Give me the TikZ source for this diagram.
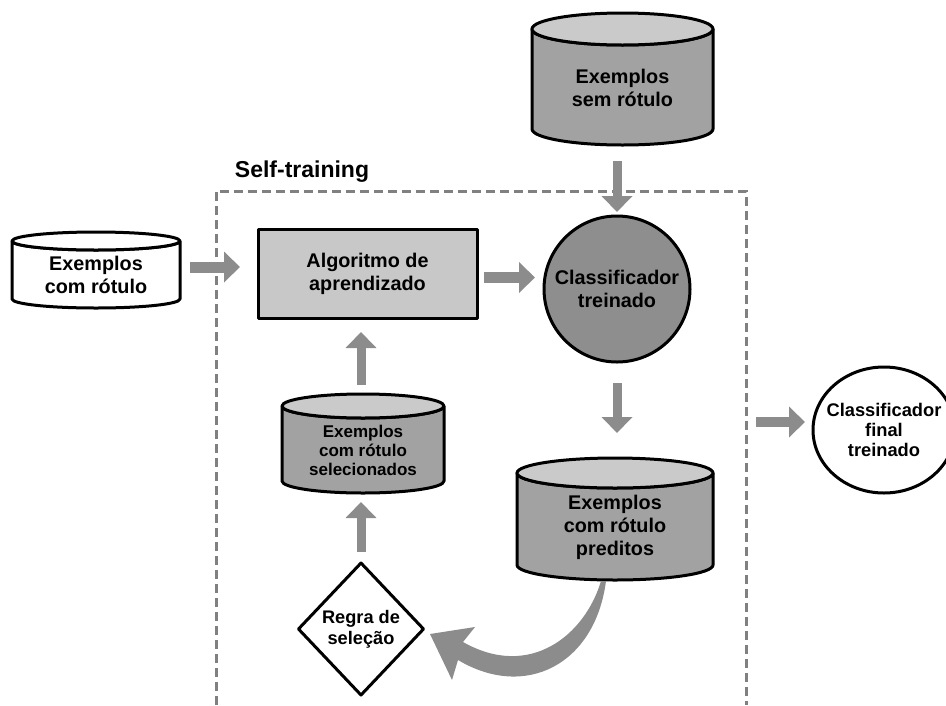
\documentclass[tikz,border=0pt]{standalone}
\usepackage{fontspec}
\setmainfont{Liberation Sans}
\usetikzlibrary{arrows.meta,shapes.geometric}

\definecolor{arrowgray}{HTML}{8C8C8C}
\definecolor{dashgray}{HTML}{808080}
\definecolor{boxgray}{HTML}{C8C8C8}
\definecolor{cyltop}{HTML}{CACACA}
\definecolor{cylbody}{HTML}{A2A2A2}
\definecolor{clfgray}{HTML}{8E8E8E}

\tikzset{
  outline/.style={draw=black, line width=3pt, line join=round},
  txt/.style={font=\bfseries\fontsize{19.8}{23}\selectfont, align=center, inner sep=0pt},
  smalltxt/.style={font=\bfseries\fontsize{17}{19}\selectfont, align=center, inner sep=0pt},
  finaltxt/.style={font=\bfseries\fontsize{18.3}{20}\selectfont, align=center},
  cylbox/.style={rectangle, inner sep=0pt, outer sep=0pt},
  barrow/.style={draw=arrowgray, line width=9pt, -{Triangle[length=16pt, width=30pt]}},
  harrow/.style={barrow, line width=11pt},
  frame/.style={draw=dashgray, line width=3pt, dash pattern=on 9pt off 5pt}
}

% cylinder outline drawn around a named box node
% #1 node, #2 x radius, #3 y radius, #4 body fill, #5 lid fill
\newcommand\drawcyl[5]{%
  \filldraw[outline, fill=#4]
    ([yshift=-#3pt]#1.north west) -- ([yshift=#3pt]#1.south west)
    arc[start angle=180, end angle=360, x radius=#2pt, y radius=#3pt]
    -- ([yshift=-#3pt]#1.north east)
    arc[start angle=360, end angle=180, x radius=#2pt, y radius=#3pt] -- cycle;
  \filldraw[outline, fill=#5] ([yshift=-#3pt]#1.north) ellipse [x radius=#2pt, y radius=#3pt];
}

\begin{document}
\begin{tikzpicture}[x=1pt, y=-1pt]
\clip (0,0) rectangle (946,705);
\useasboundingbox (0,0) rectangle (946,705);

% Self-training frame (open at the bottom)
\draw[frame] (216,705) -- (216,191) -- (746,191) -- (746,705);
\node[txt, font=\bfseries\fontsize{23}{26}\selectfont] (sttitle) at (302,172) {Self-training};

% labelled examples
\node[cylbox, minimum width=168pt, minimum height=76pt] (lab) at (96,270) {};
\drawcyl{lab}{84}{9}{white}{white}
\node[txt] (labt) at (96,275) {Exemplos\\com rótulo};

% learning algorithm
\node[outline, fill=boxgray, rectangle, minimum width=219pt, minimum height=89pt, inner sep=0pt, outer sep=0pt, txt]
  (algo) at (367.5,273.5) {Algoritmo de\\aprendizado};

% unlabelled examples
\node[cylbox, minimum width=181pt, minimum height=132pt] (unl) at (622.5,79) {};
\drawcyl{unl}{90.5}{16}{cylbody}{cyltop}
\node[txt] (unlt) at (622.5,88) {Exemplos\\sem rótulo};

% trained classifier
\node[outline, fill=clfgray, circle, minimum size=146pt, inner sep=0pt, outer sep=0pt, txt]
  (clf) at (617,289) {Classificador\\treinado};

% predicted labels
\node[cylbox, minimum width=196pt, minimum height=122pt] (pred) at (615,519) {};
\drawcyl{pred}{98}{15}{cylbody}{cyltop}
\node[txt] (predt) at (615,527) {Exemplos\\com rótulo\\preditos};

% selected labelled examples
\node[cylbox, minimum width=162pt, minimum height=99pt] (sel) at (363,443.5) {};
\drawcyl{sel}{81}{12}{cylbody}{cyltop}
\node[smalltxt] (selt) at (363,450) {Exemplos\\com rótulo\\selecionados};

% selection rule
\node[outline, fill=white, diamond, minimum width=125pt, minimum height=132pt, inner sep=0pt, outer sep=0pt,
      font=\bfseries\fontsize{18.2}{21}\selectfont, align=center]
  (rule) at (361,629) {Regra de\\seleção};

% final classifier (runs past the right edge)
\node[outline, fill=white, ellipse, minimum width=142pt, minimum height=126pt, inner sep=-8pt, outer sep=0pt, finaltxt]
  (final) at (884,430) {Classificador\\final\\treinado};

% connectors
\draw[harrow, shorten <=10pt, shorten >=18pt] ([yshift=3pt]lab.east) -- ([yshift=3pt]lab.east -| algo.west);
\draw[harrow, shorten <=7pt, shorten >=9pt] ([yshift=-4pt]algo.east) -- ([yshift=-4pt]algo.east -| clf.west);
\draw[barrow, shorten <=16pt, shorten >=4pt] (unl.south -| clf.north) -- (clf.north);
\draw[barrow, shorten <=21pt, shorten >=25pt] (clf.south) -- (clf.south |- pred.north);
\draw[barrow, shorten <=11pt, shorten >=9pt] (rule.north) -- (rule.north |- sel.south);
\draw[barrow, shorten <=9pt, shorten >=14pt] (sel.north -| rule.north) -- (algo.south -| rule.north);
\coordinate (outA) at (756,422);
\draw[harrow, line width=10pt, shorten >=8pt] (outA) -- (outA -| final.west);

% tapered curved arrow from the predictions back to the selection rule
\fill[arrowgray]
  (601,581) .. controls (585,635) and (530,680) .. (463,642)
  -- (475,627) -- (430,634) -- (452,680) -- (458,660)
  .. controls (525,700) and (595,665) .. (606,581) -- cycle;
\end{tikzpicture}
\end{document}
